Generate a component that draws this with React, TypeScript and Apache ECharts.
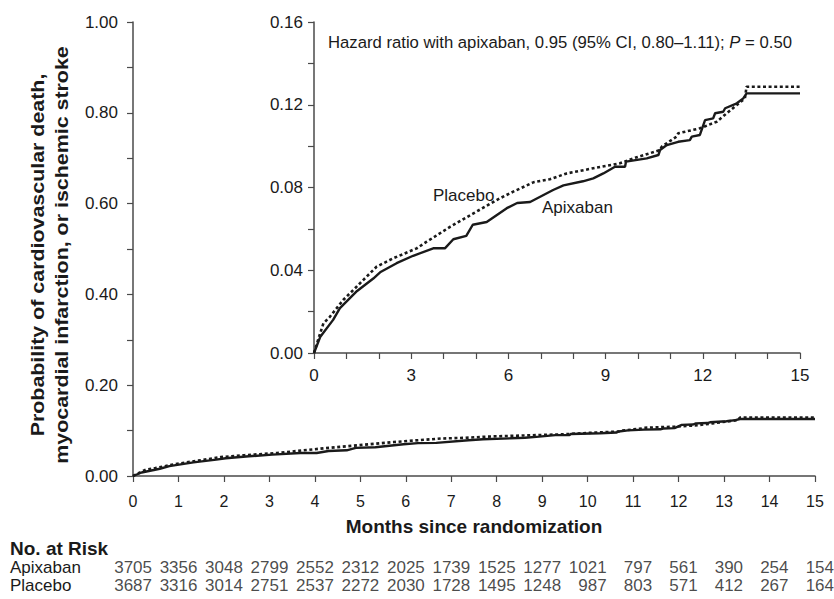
import React, { useEffect, useRef } from "react";
import * as echarts from "echarts";

// Kaplan-Meier curves (months, cumulative probability)
const apixabanMonths = [0, 0.19, 0.59, 0.8, 1.33, 1.83, 2.04, 2.55, 3.06, 3.68, 4.04, 4.3, 4.7, 4.9, 5.33, 5.95, 6.27, 6.67, 7.38, 7.7, 8.3, 8.62, 8.93, 9.29, 9.6, 9.63, 10.27, 10.63, 10.68, 10.89, 11.24, 11.6, 11.66, 11.91, 12.07, 12.32, 12.38, 12.63, 12.69, 13.05, 13.25, 13.35, 15];
const apixabanProb = [0, 0.0077, 0.016, 0.0217, 0.030, 0.036, 0.039, 0.0434, 0.047, 0.0506, 0.0506, 0.055, 0.0566, 0.062, 0.0633, 0.070, 0.0725, 0.073, 0.0788, 0.081, 0.083, 0.0844, 0.0868, 0.090, 0.090, 0.0925, 0.0941, 0.0957, 0.0981, 0.1005, 0.1021, 0.1029, 0.1046, 0.1054, 0.1126, 0.1134, 0.1159, 0.1166, 0.1183, 0.1207, 0.1231, 0.1255, 0.1255];
const placeboMonths = [0, 0.19, 0.29, 0.49, 0.9, 1.42, 1.93, 2.45, 3.17, 3.48, 4.2, 4.92, 5.74, 6.15, 6.77, 7.28, 7.8, 8.62, 9.44, 9.86, 10.68, 10.73, 11.19, 11.24, 11.91, 12.43, 12.74, 13.05, 13.3, 13.35, 15];
const placeboProb = [0, 0.0095, 0.0143, 0.0175, 0.0256, 0.0337, 0.0417, 0.0458, 0.0506, 0.0538, 0.0610, 0.0675, 0.0748, 0.0780, 0.0825, 0.0840, 0.0868, 0.0893, 0.0917, 0.0941, 0.0981, 0.0997, 0.1046, 0.1062, 0.1086, 0.1118, 0.1159, 0.1199, 0.1231, 0.1287, 0.1287];

// Number at risk
const riskMonths = [0, 1, 2, 3, 4, 5, 6, 7, 8, 9, 10, 11, 12, 13, 14, 15];
const apixabanRisk = [3705, 3356, 3048, 2799, 2552, 2312, 2025, 1739, 1525, 1277, 1021, 797, 561, 390, 254, 154];
const placeboRisk = [3687, 3316, 3014, 2751, 2537, 2272, 2030, 1728, 1495, 1248, 987, 803, 571, 412, 267, 164];
const riskRows = ["Placebo", "Apixaban"];

const SANS = '"Liberation Sans", Arial, Helvetica, sans-serif';
const INK = "#1a1a1a";
const AXIS = "#4a4a4a";

const zip = (xs: number[], ys: number[]) => xs.map((x, i) => [x, ys[i]]);

export default function App() {
  const ref = useRef<HTMLDivElement>(null);
  useEffect(() => {
    if (!ref.current) return;
    const chart = echarts.init(ref.current, undefined, { renderer: "svg" });
    const axisLine = { show: true, lineStyle: { color: AXIS, width: 1.5 } };
    const ticks = { show: true, inside: false, length: 6, lineStyle: { color: AXIS, width: 1.2 } };
    const minor = { show: true, splitNumber: 2, length: 6, lineStyle: { color: AXIS, width: 1.2 } };
    const solid = { color: INK, width: 2.4, type: "solid" as const };
    const dotted = { color: INK, width: 2.6, type: [3, 2.6] as any };
    const riskLabel = {
      show: true, position: "inside", align: "right", offset: [19, 0],
      formatter: (p: any) => String(p.value[2]), fontFamily: SANS, fontSize: 17, color: INK,
    };
    chart.setOption({
      animation: false,
      backgroundColor: "#fff",
      grid: [
        { left: 133, top: 22, width: 682, height: 454 },
        { left: 314, top: 22, width: 486, height: 331 },
        { left: 133, top: 558, width: 682, height: 36 },
      ],
      xAxis: [
        {
          gridIndex: 0, type: "value", min: 0, max: 15, interval: 1,
          axisLine, axisTick: ticks, splitLine: { show: false },
          axisLabel: { fontFamily: SANS, fontSize: 16, color: INK, margin: 17 },
          name: "Months since randomization", nameLocation: "middle", nameGap: 41,
          nameTextStyle: { fontFamily: SANS, fontSize: 19, fontWeight: "bold", color: INK },
        },
        {
          gridIndex: 1, type: "value", min: 0, max: 15, interval: 1,
          axisLine, axisTick: ticks, splitLine: { show: false },
          axisLabel: {
            fontFamily: SANS, fontSize: 17, color: INK, margin: 14,
            formatter: (v: number) => (v % 3 === 0 ? String(v) : ""),
          },
        },
        { gridIndex: 2, type: "value", min: 0, max: 15, show: false },
      ],
      yAxis: [
        {
          gridIndex: 0, type: "value", min: 0, max: 1, interval: 0.2,
          axisLine, axisTick: ticks, minorTick: minor, splitLine: { show: false },
          axisLabel: { fontFamily: SANS, fontSize: 17, color: INK, margin: 15, formatter: (v: number) => v.toFixed(2) },
        },
        {
          gridIndex: 1, type: "value", min: 0, max: 0.16, interval: 0.04,
          axisLine, axisTick: ticks, minorTick: minor, splitLine: { show: false },
          axisLabel: { fontFamily: SANS, fontSize: 17, color: INK, margin: 11, formatter: (v: number) => v.toFixed(2) },
        },
        {
          gridIndex: 2, type: "category", data: riskRows,
          axisLine: { show: false }, axisTick: { show: false },
          axisLabel: { fontFamily: SANS, fontSize: 17, color: INK, align: "left", margin: 123, interval: 0 },
        },
      ],
      series: [
        { type: "line", xAxisIndex: 0, yAxisIndex: 0, data: zip(placeboMonths, placeboProb), showSymbol: false, lineStyle: dotted, z: 3 },
        { type: "line", xAxisIndex: 0, yAxisIndex: 0, data: zip(apixabanMonths, apixabanProb), showSymbol: false, lineStyle: solid, z: 4 },
        { type: "line", xAxisIndex: 1, yAxisIndex: 1, data: zip(placeboMonths, placeboProb), showSymbol: false, lineStyle: dotted, z: 3 },
        { type: "line", xAxisIndex: 1, yAxisIndex: 1, data: zip(apixabanMonths, apixabanProb), showSymbol: false, lineStyle: solid, z: 4 },
        {
          type: "scatter", xAxisIndex: 2, yAxisIndex: 2, symbolSize: 1, itemStyle: { color: "rgba(0,0,0,0)" },
          data: apixabanRisk.map((n, i) => [riskMonths[i], "Apixaban", n]), label: riskLabel,
        },
        {
          type: "scatter", xAxisIndex: 2, yAxisIndex: 2, symbolSize: 1, itemStyle: { color: "rgba(0,0,0,0)" },
          data: placeboRisk.map((n, i) => [riskMonths[i], "Placebo", n]), label: riskLabel,
        },
      ],
      graphic: [
        {
          type: "text", x: 328, y: 42,
          style: {
            text: "{n|Hazard ratio with apixaban, 0.95 (95% CI, 0.80\u20131.11); }{i|P}{n| = 0.50}",
            verticalAlign: "middle",
            rich: {
              n: { fontFamily: SANS, fontSize: 16.7, fill: INK },
              i: { fontFamily: SANS, fontSize: 16.7, fontStyle: "italic", fill: INK },
            },
          },
        },
        { type: "text", x: 433, y: 195, style: { text: "Placebo", fontFamily: SANS, fontSize: 17, fill: INK, verticalAlign: "middle" } },
        { type: "text", x: 542, y: 207, style: { text: "Apixaban", fontFamily: SANS, fontSize: 17, fill: INK, verticalAlign: "middle" } },
        { type: "text", x: 10, y: 548, style: { text: "No. at Risk", fontFamily: SANS, fontSize: 19, fontWeight: "bold", fill: INK, verticalAlign: "middle" } },
        {
          type: "text", x: 50, y: 255, rotation: Math.PI / 2, scaleX: 1.19, scaleY: 1,
          style: {
            text: "Probability of cardiovascular death,\nmyocardial infarction, or ischemic stroke",
            fontFamily: SANS, fontSize: 18, fontWeight: "bold", fill: INK,
            align: "center", verticalAlign: "middle", lineHeight: 24,
          },
        },
      ],
    });
    return () => chart.dispose();
  }, []);
  return <div ref={ref} style={{ width: 834, height: 599, position: "absolute", left: 0, top: 0 }} />;
}
